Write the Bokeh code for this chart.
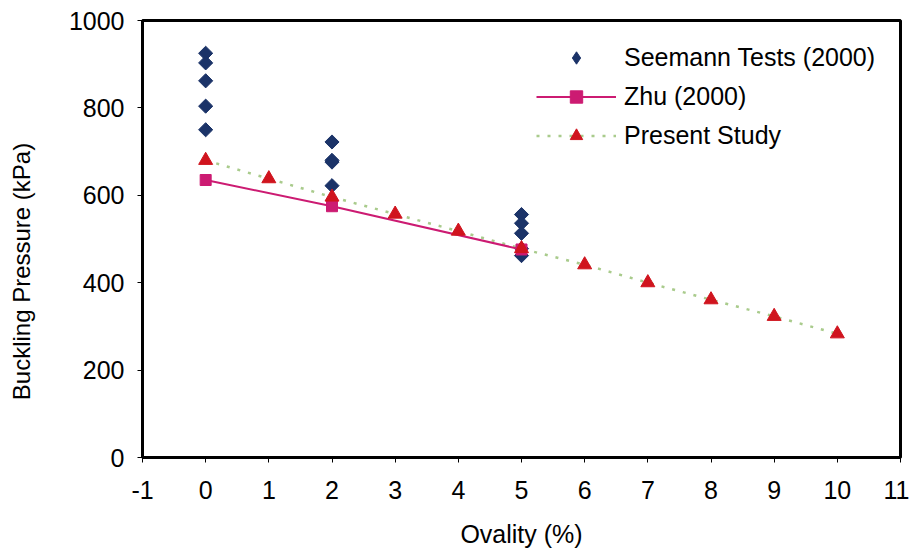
from math import pi
from bokeh.plotting import figure
from bokeh.models import Range1d, Legend, LegendItem, FixedTicker, Label
from bokeh.embed import file_html
from bokeh.resources import INLINE

# Data
seemann_x = [0, 0, 0, 0, 0, 2, 2, 2, 2, 5, 5, 5, 5, 5]
seemann_y = [925, 903, 862, 804, 750, 722, 680, 676, 622, 556, 536, 513, 478, 462]

zhu_x = [0, 2, 5]
zhu_y = [635, 575, 476]

present_x = [0, 1, 2, 3, 4, 5, 6, 7, 8, 9, 10]
present_y = [680, 638, 596, 557, 518, 478, 441, 400, 361, 323, 283]

x_ticks = [-1, 0, 1, 2, 3, 4, 5, 6, 7, 8, 9, 10, 11]
y_ticks = [0, 200, 400, 600, 800, 1000]

x_title = "Ovality (%)"
y_title = "Buckling Pressure (kPa)"

FONT = "Liberation Sans"
FS = "25px"

p = figure(width=909, height=550, output_backend="svg", toolbar_location=None,
           x_range=Range1d(-1, 11), y_range=Range1d(0, 1000),
           min_border_left=142, min_border_right=9, min_border_top=20,
           min_border_bottom=93)

p.xgrid.visible = False
p.ygrid.visible = False
p.outline_line_color = "black"
p.outline_line_width = 3
p.outline_line_alpha = 1.0
p.background_fill_color = "white"
p.border_fill_color = "white"

for ax in (p.xaxis[0], p.yaxis[0]):
    ax.axis_line_color = "black"
    ax.axis_line_width = 3
    ax.major_tick_line_color = "black"
    ax.major_tick_line_width = 1
    ax.major_tick_in = 0
    ax.major_tick_out = 5
    ax.minor_tick_line_color = None
    ax.major_label_text_font = FONT
    ax.major_label_text_font_size = FS
    ax.major_label_text_color = "black"
    ax.axis_label_text_font = FONT
    ax.axis_label_text_font_style = "normal"
    ax.axis_label_text_color = "black"

p.xaxis.ticker = FixedTicker(ticks=x_ticks)
p.yaxis.ticker = FixedTicker(ticks=y_ticks)
p.xaxis.major_label_overrides = {-1: "-1"}
p.xaxis.major_label_standoff = 18
p.yaxis.major_label_standoff = 13
p.xaxis.axis_label = x_title
p.xaxis.axis_label_text_font_size = FS
p.xaxis.axis_label_standoff = 18

# y title as a label in the left side panel (offset downwards as in reference)
p.add_layout(Label(x=-17, y=186, x_units="screen", y_units="screen",
                   text=y_title, text_font=FONT, text_font_size="24px",
                   text_color="black", angle=pi / 2,
                   text_align="center", text_baseline="middle"), "left")

navy = "#1B3368"
magenta = "#CC1B72"
red = "#D0141E"
green = "#A9CB8C"

# diamond glyph hidden under the rotated squares; used for the legend symbol
r_seemann_leg = p.scatter(seemann_x, seemann_y, marker="diamond", size=10,
                          fill_color=navy, line_color=navy)
r_seemann = p.scatter(seemann_x, seemann_y, marker="square", size=10,
                      angle=pi / 4, fill_color=navy, line_color=navy)

r_present_line = p.line(present_x, present_y, line_color=green, line_width=2.5,
                        line_dash="3 8")
r_zhu_line = p.line(zhu_x, zhu_y, line_color=magenta, line_width=2)
r_zhu = p.scatter(zhu_x, zhu_y, marker="square", size=11,
                  fill_color=magenta, line_color=magenta)
r_present = p.scatter(present_x, present_y, marker="triangle", size=14,
                      fill_color=red, line_color=red)

legend = Legend(items=[
    LegendItem(label="Seemann Tests (2000)", renderers=[r_seemann_leg]),
    LegendItem(label="Zhu (2000)", renderers=[r_zhu_line, r_zhu]),
    LegendItem(label="Present Study", renderers=[r_present_line, r_present]),
], location=(394, 302))
legend.border_line_color = None
legend.background_fill_alpha = 0
legend.label_text_font = FONT
legend.label_text_font_size = FS
legend.label_text_color = "black"
legend.glyph_width = 80
legend.glyph_height = 31
legend.label_height = 39
legend.spacing = 0
legend.padding = 0
legend.margin = 0
legend.label_standoff = 8
p.add_layout(legend)

open("out.html", "w").write(file_html(p, INLINE))
